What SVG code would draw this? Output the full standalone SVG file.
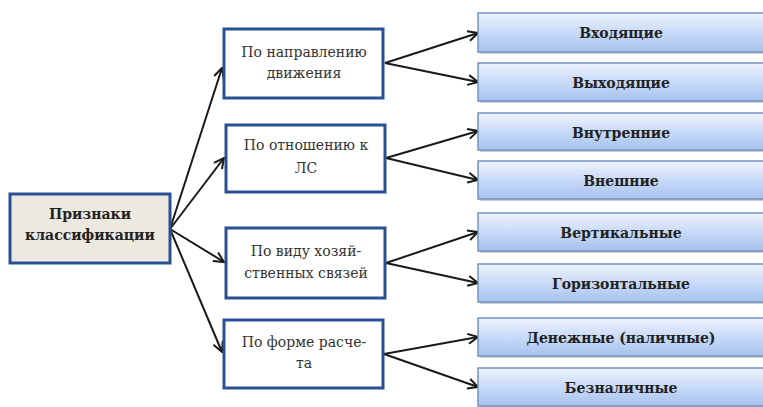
<svg xmlns="http://www.w3.org/2000/svg" width="763" height="407" viewBox="0 0 763 407">
<defs>
<linearGradient id="bg" x1="0" y1="0" x2="0" y2="1">
<stop offset="0" stop-color="#eef3fd"/>
<stop offset="0.5" stop-color="#c8daf7"/>
<stop offset="1" stop-color="#a7c2ee"/>
</linearGradient>
<marker id="arr" viewBox="0 0 12 12" refX="11" refY="6" markerWidth="12" markerHeight="12" markerUnits="userSpaceOnUse" orient="auto">
<path d="M1,1 L11,6 L1,11" fill="none" stroke="#1a1a1a" stroke-width="2"/>
</marker>
</defs>
<style>
.root{fill:#ece9e1;stroke:#2b5091;stroke-width:3}
.mid{fill:#ffffff;stroke:#2b5091;stroke-width:3}
.leaf{fill:url(#bg);stroke:#7591c4;stroke-width:1.5}
.sh{fill:#9a9a9a;opacity:0.5}
text{font-family:'DejaVu Serif','Liberation Serif',serif;font-size:14px;text-anchor:middle}
.tb{font-weight:bold;fill:#222}
.tm{fill:#333}
.c{stroke:#1a1a1a;stroke-width:2;fill:none;marker-end:url(#arr)}
</style>
<rect width="763" height="407" fill="#ffffff"/>
<g id="connectors">
<line class="c" x1="170" y1="229" x2="222" y2="68"/>
<line class="c" x1="170" y1="229" x2="224" y2="158"/>
<line class="c" x1="170" y1="229" x2="224" y2="262"/>
<line class="c" x1="170" y1="229" x2="222" y2="352"/>
<line class="c" x1="385" y1="63" x2="478" y2="33"/>
<line class="c" x1="385" y1="63" x2="478" y2="82"/>
<line class="c" x1="386" y1="158" x2="478" y2="131"/>
<line class="c" x1="386" y1="158" x2="478" y2="180"/>
<line class="c" x1="386" y1="263" x2="478" y2="232"/>
<line class="c" x1="386" y1="263" x2="478" y2="283"/>
<line class="c" x1="384" y1="354" x2="478" y2="337"/>
<line class="c" x1="384" y1="354" x2="478" y2="387"/>
</g>
<g id="root">
<rect class="root" x="10" y="194" width="160" height="69"/>
<text class="tb" x="90" y="219">Признаки</text>
<text class="tb" x="90" y="240">классификации</text>
</g>
<g id="m1">
<rect class="mid" x="224" y="29" width="159" height="69"/>
<text class="tm" x="304" y="57">По направлению</text>
<text class="tm" x="304" y="78">движения</text>
</g>
<g id="m2">
<rect class="mid" x="226" y="125" width="159" height="67"/>
<text class="tm" x="306" y="150">По отношению к</text>
<text class="tm" x="306" y="173">ЛС</text>
</g>
<g id="m3">
<rect class="mid" x="226" y="228" width="159" height="70"/>
<text class="tm" x="306" y="256">По виду хозяй-</text>
<text class="tm" x="306" y="278">ственных связей</text>
</g>
<g id="m4">
<rect class="mid" x="224" y="320" width="159" height="68"/>
<text class="tm" x="304" y="347">По форме расче-</text>
<text class="tm" x="304" y="368">та</text>
</g>
<g id="l1">
<rect class="sh" x="480" y="15" width="290" height="39"/>
<rect class="leaf" x="478" y="13" width="290" height="39"/>
<text class="tb" x="621" y="38">Входящие</text>
</g>
<g id="l2">
<rect class="sh" x="480" y="65" width="290" height="38"/>
<rect class="leaf" x="478" y="63" width="290" height="38"/>
<text class="tb" x="621" y="88">Выходящие</text>
</g>
<g id="l3">
<rect class="sh" x="480" y="115" width="290" height="37"/>
<rect class="leaf" x="478" y="113" width="290" height="37"/>
<text class="tb" x="621" y="138">Внутренние</text>
</g>
<g id="l4">
<rect class="sh" x="480" y="163" width="290" height="38"/>
<rect class="leaf" x="478" y="161" width="290" height="38"/>
<text class="tb" x="621" y="186">Внешние</text>
</g>
<g id="l5">
<rect class="sh" x="480" y="215" width="290" height="38"/>
<rect class="leaf" x="478" y="213" width="290" height="38"/>
<text class="tb" x="621" y="238">Вертикальные</text>
</g>
<g id="l6">
<rect class="sh" x="480" y="266" width="290" height="38"/>
<rect class="leaf" x="478" y="264" width="290" height="38"/>
<text class="tb" x="621" y="289">Горизонтальные</text>
</g>
<g id="l7">
<rect class="sh" x="480" y="320" width="290" height="38"/>
<rect class="leaf" x="478" y="318" width="290" height="38"/>
<text class="tb" x="621" y="343">Денежные (наличные)</text>
</g>
<g id="l8">
<rect class="sh" x="480" y="370" width="290" height="38"/>
<rect class="leaf" x="478" y="368" width="290" height="38"/>
<text class="tb" x="621" y="393">Безналичные</text>
</g>
</svg>
